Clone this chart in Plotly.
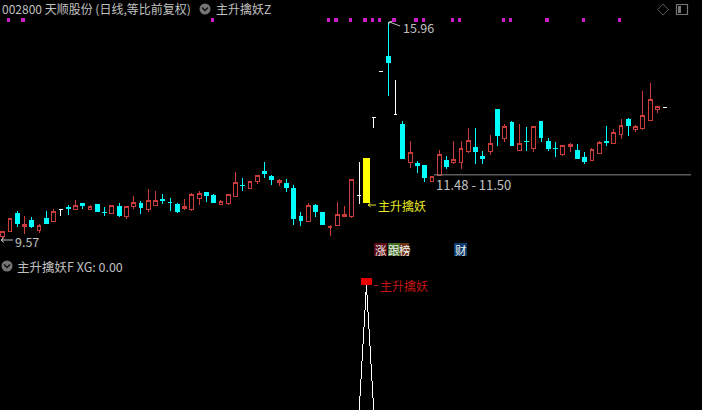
import plotly.graph_objects as go

# ---- data (prices) ----
kind = list("RRCRCRCRWCRCRCCRCRRCRRCCCRRRCCRRRCRRCCRCCCRCCRRRRWYWWCWCRCCRRCRRRCCRCRCRCRCCCRRCCRRCRRCRRRRW")
open_ = [9.67,9.81,10.35,9.96,10.15,9.86,10.21,10.11,10.47,10.51,10.46,10.65,10.46,10.60,10.39,10.34,
         10.56,10.27,10.56,10.65,10.45,10.58,10.75,10.67,10.62,10.48,10.45,10.78,10.95,10.86,10.61,10.63,
         10.84,11.17,11.07,11.28,11.59,11.42,11.25,11.24,11.09,10.27,10.11,10.59,10.39,9.95,9.99,10.27,
         10.25,10.88,10.66,13.17,14.50,14.94,13.26,12.97,11.84,11.80,11.74,11.28,11.47,11.89,11.85,11.84,
         12.16,12.27,12.03,12.16,13.41,12.55,13.00,12.18,12.46,12.24,13.03,12.47,12.25,12.09,12.30,12.18,
         12.00,11.89,12.12,12.45,12.39,12.65,13.09,12.82,12.85,13.06,13.41,13.46]
close = [9.81,10.19,10.04,10.01,9.96,10.00,10.04,10.42,10.47,10.50,10.59,10.57,10.56,10.42,10.38,10.57,
         10.30,10.54,10.67,10.51,10.73,10.73,10.74,10.66,10.42,10.54,10.89,10.94,10.86,10.68,10.70,10.89,
         11.26,11.16,11.29,11.47,11.51,11.33,11.30,11.12,10.21,10.13,10.59,10.40,10.01,9.96,10.32,10.33,
         11.35,10.88,11.97,13.17,14.50,14.76,13.26,11.95,12.14,11.74,11.39,11.42,12.08,11.71,11.92,12.26,
         12.49,12.15,11.95,12.41,12.62,12.91,12.33,12.39,12.45,12.91,12.56,12.24,12.24,12.33,12.36,11.97,
         11.86,12.21,12.44,12.44,12.71,12.94,12.94,12.91,13.21,13.68,13.47,13.46]
high = [9.81,10.22,10.42,10.27,10.24,10.03,10.42,10.47,10.47,10.59,10.74,10.65,10.59,10.63,10.53,10.60,
        10.65,10.57,10.86,10.70,11.06,11.01,10.91,10.80,10.65,10.77,10.94,11.01,10.98,10.91,10.73,10.89,
        11.56,11.39,11.29,11.47,11.86,11.48,11.36,11.36,11.17,10.39,10.65,10.63,10.39,10.01,10.68,10.57,
        11.35,11.86,11.97,13.17,14.50,15.96,14.26,13.06,12.47,11.89,11.74,11.42,12.21,12.03,12.47,12.47,
        12.85,12.85,12.18,12.65,13.41,12.97,13.06,12.97,12.89,12.91,13.06,12.56,12.44,12.33,12.41,12.39,
        12.15,12.27,12.47,12.91,12.82,13.12,13.15,12.94,13.94,14.17,13.50,13.46]
low = [9.57,9.81,9.96,9.75,9.93,9.77,10.04,10.11,10.27,10.31,10.46,10.47,10.45,10.39,10.27,10.32,
       10.24,10.18,10.47,10.33,10.39,10.58,10.63,10.42,10.36,10.45,10.42,10.61,10.68,10.65,10.61,10.61,
       10.84,11.01,11.07,11.22,11.40,11.19,11.16,10.98,10.02,9.98,10.11,10.24,10.01,9.69,9.99,10.24,
       10.21,10.63,10.66,12.86,14.50,13.79,13.26,11.95,11.69,11.53,11.28,11.28,11.47,11.64,11.80,11.66,
       12.13,11.79,11.80,12.06,12.33,12.44,12.33,12.18,12.18,12.15,12.44,12.18,12.00,12.03,12.15,11.95,
       11.80,11.89,12.12,12.33,12.39,12.53,12.62,12.74,12.80,13.06,13.29,13.46]
signal_days = [1,3,29,45,46,48,50,51,52,54,57,58,62,63,69,70,75,80,85]
xg_x = [49,50,51]
xg_y = [0,100,0]
support_low, support_high = 11.48, 11.50

RED = "#c83c3c"; CYAN = "#00ffff"; WHITE = "#ffffff"; YELLOW = "#ffff00"; TXT = "#c0c0c0"
STEP = 7.275; X0 = 2.7
W, H = 702, 410
# price axis: y-pixel = 240 at 9.57, 22 at 15.96
PX = (240-22)/(15.96-9.57)
ymax = 9.57 + 240/PX; ymin = 9.57 - (H-240)/PX

def pick(arr, ks):
    return [a for a, k in zip(arr, kind) if k in ks]
def idx(ks):
    return [i for i, k in enumerate(kind) if k in ks]

fig = go.Figure()
fig.add_trace(go.Candlestick(x=idx("RC"), open=pick(open_,"RC"), high=pick(high,"RC"), low=pick(low,"RC"), close=pick(close,"RC"),
    increasing=dict(line=dict(color=RED, width=1), fillcolor="#000000"),
    decreasing=dict(line=dict(color=CYAN, width=1), fillcolor=CYAN), whiskerwidth=0, showlegend=False))
fig.add_trace(go.Candlestick(x=idx("W"), open=pick(open_,"W"), high=pick(high,"W"), low=pick(low,"W"), close=pick(close,"W"),
    increasing=dict(line=dict(color=WHITE, width=1), fillcolor=WHITE),
    decreasing=dict(line=dict(color=WHITE, width=1), fillcolor=WHITE), whiskerwidth=0, showlegend=False))
fig.add_trace(go.Bar(x=idx("Y"), base=pick(open_,"Y"), y=[c-o for c,o in zip(pick(close,"Y"),pick(open_,"Y"))],
    width=0.96, marker=dict(color=YELLOW, line=dict(width=0)), showlegend=False))
fig.add_trace(go.Scatter(x=[d-0.2 for d in signal_days], y=[16.02]*len(signal_days), mode="markers",
    marker=dict(symbol="square", size=3.4, color="#c81fc8", line=dict(width=0)), showlegend=False))
fig.add_trace(go.Scatter(x=xg_x, y=xg_y, yaxis="y2", mode="lines", line=dict(color=WHITE, width=1), showlegend=False))
fig.add_trace(go.Bar(x=[50], base=[100], y=[5.3], yaxis="y2", width=1.55,
    marker=dict(color="#e60000", line=dict(width=0)), showlegend=False))

xl = -X0/STEP; xr = (W-X0)/STEP
fig.update_layout(width=W, height=H, margin=dict(l=0,r=0,t=0,b=0), autosize=False,
    paper_bgcolor="#000000", plot_bgcolor="#000000", barmode="overlay", showlegend=False, boxgap=0.25,
    font=dict(family="Noto Sans CJK SC, Noto Sans, sans-serif", size=12.5, color=TXT),
    xaxis=dict(range=[xl,xr], visible=False, rangeslider=dict(visible=False), fixedrange=True),
    yaxis=dict(range=[ymin,ymax], visible=False, fixedrange=True),
    yaxis2=dict(range=[0,328], visible=False, overlaying="y", fixedrange=True))

def label(px, py, text, color=TXT, size=12.5, anchor="left"):
    fig.add_annotation(x=px/W, y=1-py/H, xref="paper", yref="paper", text=text, showarrow=False,
        xanchor=anchor, yanchor="middle", align="left", borderpad=0, borderwidth=0,
        font=dict(color=color, size=size))

def rect(x0,y0,x1,y1,fill,line=None,**kw):
    fig.add_shape(type="rect", xref="paper", yref="paper", x0=x0/W, x1=x1/W, y0=1-y0/H, y1=1-y1/H,
        fillcolor=fill, line=dict(width=1 if line else 0, color=line or fill), layer="below", **kw)

def chevron(cx, cy):
    fig.add_shape(type="circle", xref="paper", yref="paper", x0=(cx-5.5)/W, x1=(cx+5.5)/W, y0=1-(cy+5.5)/H, y1=1-(cy-5.5)/H,
        fillcolor="#757575", line=dict(width=0))
    fig.add_shape(type="path", xref="paper", yref="paper",
        path=f"M {(cx-3)/W} {1-(cy-1.5)/H} L {cx/W} {1-(cy+1.5)/H} L {(cx+3)/W} {1-(cy-1.5)/H}",
        line=dict(color="#111111", width=1.5))

def pline(pts, color, width=1):
    p = " ".join(("M" if i == 0 else "L") + f" {x/W} {1-y/H}" for i,(x,y) in enumerate(pts))
    fig.add_shape(type="path", xref="paper", yref="paper", path=p, line=dict(color=color, width=width))

# header and panel titles
label(2, 8.5, "002800 天顺股份 (日线,等比前复权)", size=12)
chevron(205, 9)
label(216, 8.5, "主升擒妖Z", size=12)
chevron(7, 266)
label(17, 266, "主升擒妖F XG: 0.00")

# right-top icons
pline([(663,4),(668.5,9.5),(663,15),(657.5,9.5),(663,4)], "#555555")
fig.add_shape(type="rect", xref="paper", yref="paper", x0=676.5/W, x1=687.5/W, y0=1-14.5/H, y1=1-4.5/H,
    line=dict(color="#777777", width=1.2))
rect(678,6,681,13,"#777777")

# price labels
pline([(1,240),(13,240)], TXT); pline([(4,237.5),(1,240),(4,242.5)], TXT)
label(15, 241, "9.57")
pline([(389,22),(392,23),(400,26)], TXT); pline([(389,24.5),(389,22),(392,21.5)], TXT)
label(402.5, 27, "15.96")
fig.add_shape(type="line", xref="x", yref="y", x0=(434-X0)/STEP, x1=(691-X0)/STEP,
    y0=support_low, y1=support_low, line=dict(color="#8a8a8a", width=1))
label(436, 184.5, f"{support_low:.2f} - {support_high:.2f}", size=13)

# signal labels
pline([(368,205),(376,205)], "#e8e820"); pline([(370.5,203),(368,205),(370.5,207)], "#e8e820")
label(378, 205, "主升擒妖", "#e8e820", 12)
pline([(374,285.5),(378,285.5)], "#c01515")
label(380, 285, "主升擒妖", "#c01515", 12)

# tag badges
rect(374,243,387,256,"#5a0a12")
rect(388,243,400,256,"#3d6b20")
rect(400,243,409,256,"#6e3316")
rect(454,243,467,256,"#0c3a6b")
label(380.5, 249.5, "涨", "#f2f2f2", 11.5, "center")
label(394, 249.5, "跟", "#f2f2f2", 11.5, "center")
label(404.5, 249.5, "榜", "#f2f2f2", 11.5, "center")
label(460.5, 249.5, "财", "#f2f2f2", 11.5, "center")

fig.write_html("out.html", config=dict(staticPlot=True),
    post_script="document.body.style.margin='0';document.body.style.background='#000';document.body.style.overflow='hidden';"
                "var s=document.createElement('style');s.textContent='.cartesianlayer path{shape-rendering:crispEdges !important}';document.head.appendChild(s);")
